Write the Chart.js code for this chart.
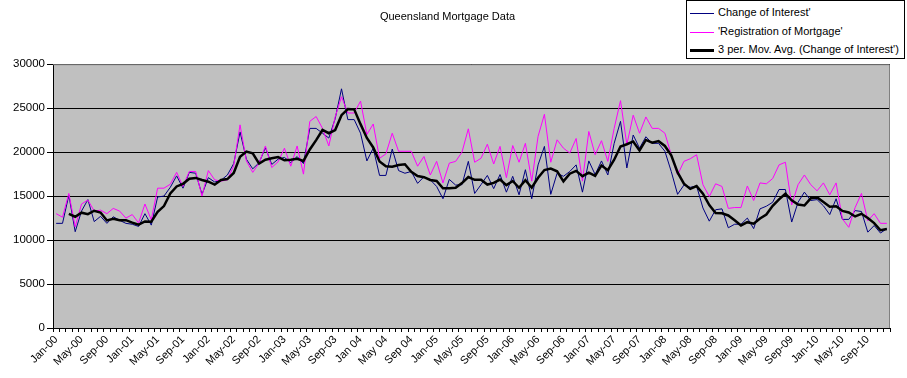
<!DOCTYPE html>
<html>
<head>
<meta charset="utf-8">
<script src="https://cdn.jsdelivr.net/npm/chart.js@4.4.1/dist/chart.umd.min.js"></script>
<style>
  body { margin: 0; background: #fff; }
  #wrap { position: relative; width: 907px; height: 378px; }
  #legend {
    position: absolute; left: 686px; top: 0px; width: 217px; height: 57px;
    border: 1px solid #000; background: #fff;
    font: 11px "Liberation Sans", Arial, sans-serif; color: #000;
  }
  #legend .row { position: absolute; left: 3px; height: 14px; line-height: 14px; white-space: nowrap; }
  #legend .sw { display: inline-block; width: 24px; vertical-align: middle; margin-right: 4px; }
</style>
</head>
<body>
<div id="wrap">
  <canvas id="chart" width="907" height="378"></canvas>
  <div id="legend"></div>
</div>
<script>
// monthly values, Jan-00 .. Dec-10 (one row per year)
const changeOfInterest = [
  11900, 11900, 15100, 10950, 13300, 14600, 12100, 12700, 11900, 12650, 12250, 11900,
  11800, 11550, 13000, 11700, 14900, 15000, 16000, 17300, 15900, 17700, 17600, 15200,
  17100, 16600, 16800, 17400, 18700, 22300, 19200, 18100, 18800, 20500, 18600, 19200,
  19400, 18800, 19500, 18700, 22700, 22700, 22150, 21600, 23800, 27200, 23700, 23700,
  22150, 19000, 20450, 17350, 17350, 20350, 17900, 17600, 17800, 16450, 17200, 16850,
  16100, 14700, 16900, 16250, 16300, 18950, 15300, 16300, 17350, 15850, 17450, 15450,
  17250, 15150, 18000, 14700, 18550, 20650, 15200, 17600, 17250, 17800, 18550, 15450,
  19000, 17450, 19000, 17400, 21000, 23500, 18200, 21950, 20450, 21750, 21000, 21000,
  20100, 17800, 15200, 16250, 16000, 16150, 13650, 12150, 13450, 13550, 11400, 11800,
  11800, 12500, 11300, 13550, 13850, 14300, 15750, 15750, 12050, 14300, 15450, 14500,
  14600, 13900, 12900, 14700, 12350, 12350, 13350, 13250, 10900, 11650, 10800, 11300
];

const registrationOfMortgage = [
  13000, 12600, 15300, 11500, 14100, 14550, 13300, 13400, 13000, 13600, 13300, 12500,
  12900, 11950, 14100, 12300, 15900, 15900, 16350, 17700, 16100, 17800, 17800, 15000,
  17900, 16850, 16700, 16850, 18450, 23100, 19000, 17700, 18750, 20700, 18250, 18900,
  20450, 18400, 20700, 17500, 23500, 24050, 22700, 20700, 24000, 26300, 24450, 24450,
  25800, 22000, 23200, 19300, 19800, 22150, 20100, 20100, 20100, 18400, 19500, 17400,
  18950, 16500, 18750, 18950, 20000, 22650, 18850, 19300, 20900, 18650, 20650, 17100,
  20750, 18850, 21000, 16700, 21800, 24300, 18850, 21400, 20450, 19900, 21550, 16700,
  22350, 19700, 21300, 18950, 22700, 25850, 20850, 24200, 22150, 24000, 22700, 22700,
  22150, 19700, 17400, 18950, 19250, 19700, 16300, 14950, 16400, 16100, 13600, 13700,
  13700, 16150, 14500, 16500, 16400, 17000, 18550, 18850, 14000, 16300, 17400, 16300,
  15600, 16500, 15150, 16500, 12400, 11450, 13700, 15300, 12200, 13000, 11900, 11900
];

// axis labels shown every 4th month
const tickLabels = [
  'Jan-00', 'May-00', 'Sep-00', 'Jan-01', 'May-01', 'Sep-01', 'Jan-02', 'May-02', 'Sep-02',
  'Jan-03', 'May-03', 'Sep-03', 'Jan 04', 'May 04', 'Sep 04', 'Jan-05', 'May-05', 'Sep-05',
  'Jan-06', 'May-06', 'Sep-06', 'Jan-07', 'May-07', 'Sep-07', 'Jan-08', 'May-08', 'Sep-08',
  'Jan-09', 'May-09', 'Sep-09', 'Jan-10', 'May-10', 'Sep-10'
];
const yTicks = [0, 5000, 10000, 15000, 20000, 25000, 30000];

const monthNames = ['Jan', 'Feb', 'Mar', 'Apr', 'May', 'Jun', 'Jul', 'Aug', 'Sep', 'Oct', 'Nov', 'Dec'];
const categories = [];
for (let y = 0; y <= 10; y++) {
  monthNames.forEach(function (m) { categories.push(m + '-' + String(y).padStart(2, '0')); });
}

// Excel style 3 period moving average of the first series
const movAvg = changeOfInterest.map(function (v, i) {
  if (i < 2) return null;
  return (changeOfInterest[i] + changeOfInterest[i - 1] + changeOfInterest[i - 2]) / 3;
});

const FONT = '"Liberation Sans", Arial, sans-serif';
Chart.defaults.font.family = FONT;
Chart.defaults.font.size = 11;
Chart.defaults.color = '#000';

// grey plot area with a grey frame, like Excel
const plotArea = {
  id: 'plotArea',
  beforeDraw(chart) {
    const a = chart.chartArea, c = chart.ctx;
    c.save();
    c.fillStyle = '#c0c0c0';
    c.fillRect(a.left, a.top, a.right - a.left, a.bottom - a.top);
    c.restore();
  },
  afterDraw(chart) {
    const a = chart.chartArea, c = chart.ctx;
    c.save();
    c.strokeStyle = '#808080';
    c.lineWidth = 1;
    c.beginPath();
    c.moveTo(a.left, a.top + 0.5);
    c.lineTo(a.right - 0.5, a.top + 0.5);
    c.lineTo(a.right - 0.5, a.bottom);
    c.stroke();
    c.restore();
  }
};

const series = [
  { label: "Change of Interest'", data: changeOfInterest, color: '#000080', width: 1 },
  { label: "'Registration of Mortgage'", data: registrationOfMortgage, color: '#ff00ff', width: 1 },
  { label: "3 per. Mov. Avg. (Change of Interest')", data: movAvg, color: '#000000', width: 2.5 }
];

new Chart(document.getElementById('chart'), {
  type: 'line',
  data: {
    labels: categories,
    datasets: series.map(function (s, i) {
      return {
        label: s.label,
        data: s.data,
        borderColor: s.color,
        borderWidth: s.width,
        pointRadius: 0,
        tension: 0,
        fill: false,
        order: 2 - i
      };
    })
  },
  options: {
    responsive: false,
    animation: false,
    layout: { padding: { left: 5, right: 17, top: 0, bottom: 0 } },
    plugins: {
      legend: { display: false },
      tooltip: { enabled: false },
      title: {
        display: true,
        text: 'Queensland Mortgage Data',
        font: { size: 11, weight: 'normal' },
        padding: { top: 10, bottom: 41 }
      }
    },
    scales: {
      x: {
        type: 'category',
        offset: true,
        grid: { offset: true, drawOnChartArea: false, drawTicks: true, tickLength: 4, color: '#000' },
        border: { color: '#000' },
        ticks: {
          autoSkip: false,
          minRotation: 45,
          maxRotation: 45,
          padding: 1,
          callback: function (v, i) { return i % 4 === 0 ? tickLabels[i / 4] : ''; }
        },
        afterFit: function (s) { s.height = 50; }
      },
      y: {
        min: 0,
        max: 30000,
        afterBuildTicks: function (s) { s.ticks = yTicks.map(function (v) { return { value: v }; }); },
        grid: { color: '#000', tickLength: 6 },
        border: { color: '#000' },
        ticks: { padding: 2, font: { size: 11.5 }, callback: function (v) { return String(v); } },
        afterFit: function (s) { s.width = 48; }
      }
    }
  },
  plugins: [plotArea]
});

// legend box in the top right corner
const legend = document.getElementById('legend');
const rowTops = [4, 23, 41];
series.forEach(function (s, i) {
  const row = document.createElement('div');
  row.className = 'row';
  row.style.top = rowTops[i] + 'px';
  const sw = document.createElement('span');
  sw.className = 'sw';
  sw.style.borderTop = Math.round(s.width) + 'px solid ' + s.color;
  row.appendChild(sw);
  row.appendChild(document.createTextNode(s.label));
  legend.appendChild(row);
});
</script>
</body>
</html>
